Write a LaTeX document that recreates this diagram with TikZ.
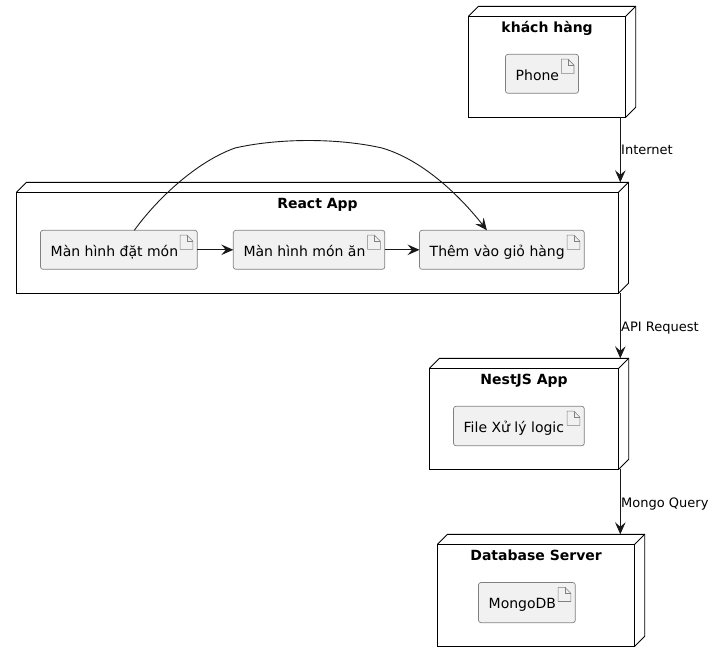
\documentclass[tikz,border=0pt]{standalone}
\usepackage{fontspec}
\setmainfont{DejaVu Sans}
\usetikzlibrary{arrows.meta}
\definecolor{edgecol}{HTML}{181818}
\definecolor{artfill}{HTML}{F1F1F1}
\definecolor{artline}{HTML}{808080}
\tikzset{
  x=1pt,y=-1pt,
  frontbox/.style={draw=black,line width=0.9pt,inner sep=0pt,outer sep=0pt},
  depth/.style={draw=black,line width=0.9pt,line join=miter},
  artbox/.style={draw=artline,fill=artfill,line width=0.7pt,rounded corners=2.5pt,inner sep=0pt,outer sep=0pt},
  icon/.style={draw=artline,line width=0.6pt,line join=miter},
  nodetitle/.style={font=\bfseries\fontsize{14}{16}\selectfont,anchor=base,inner sep=0pt,text=black},
  arttext/.style={font=\fontsize{14}{16}\selectfont,anchor=base west,inner sep=0pt,text=black},
  edgetext/.style={font=\fontsize{13}{15}\selectfont,anchor=base west,inner sep=0pt,text=black},
  link/.style={draw=edgecol,line width=0.9pt,-{Stealth[length=12pt,width=10.5pt,inset=4.5pt]}},
}
% name, x1, y1, x2, y2, title
\newcommand{\deploynode}[6]{%
  \node[frontbox,minimum width={#4-#2},minimum height={#5-#3},anchor=north west] (#1) at (#2,#3) {};
  \coordinate (#1-back) at (#4+10,#3-10);
  \draw[depth] (#1.north west) -- (#2+10,#3-10) -- (#1-back) -- (#4+10,#5-10) -- (#1.south east);
  \draw[depth] (#1.north east) -- (#1-back);
  \node[nodetitle] (#1-title) at ({(#2+#4)/2},#3+16.4) {#6};
}
% name, x1, y1, x2, y2, text
\newcommand{\artifactbox}[6]{%
  \node[artbox,minimum width={#4-#2},minimum height={#5-#3},anchor=north west] (#1) at (#2,#3) {};
  \node[arttext] (#1-text) at (#2+10,#3+26) {#6};
  \draw[icon] (#4-17.2,#3+4.8) -- (#4-10.5,#3+4.8) -- (#4-4.5,#3+10.8) -- (#4-4.5,#3+19) -- (#4-17.2,#3+19) -- cycle;
  \draw[icon] (#4-10.5,#3+4.8) -- (#4-10.5,#3+10.8) -- (#4-4.5,#3+10.8);
}
\begin{document}
\begin{tikzpicture}
\useasboundingbox (0,0) rectangle (715,662);
\coordinate (bus) at (620.3,0);

\deploynode{kh}{468.5}{16.3}{625.7}{117.3}{khách hàng}
\deploynode{react}{16.5}{192.3}{618.5}{293.3}{React App}
\deploynode{nest}{429.5}{368.3}{618.7}{469.3}{NestJS App}
\deploynode{db}{437.5}{544.3}{634.7}{646.3}{Database Server}

\artifactbox{phone}{505.5}{54.3}{578.5}{93.3}{Phone}
\artifactbox{dat}{40.5}{230.3}{197.3}{269.3}{Màn hình đặt món}
\artifactbox{mon}{233.3}{230.3}{384.8}{269.3}{Màn hình món ăn}
\artifactbox{them}{419.5}{230.3}{584.3}{269.3}{Thêm vào giỏ hàng}
\artifactbox{file}{453.5}{406.3}{584.3}{445.7}{File Xử lý logic}
\artifactbox{mongo}{478.5}{582.5}{575.3}{622.7}{MongoDB}

\draw[link] (kh.south -| bus) -- (react-back -| bus);
\draw[link] (react.south -| bus) -- (nest-back -| bus);
\draw[link] (nest.south -| bus) -- (db-back -| bus);
\draw[link] (dat.east) -- (mon.west);
\draw[link] (mon.east) -- (them.west);
\draw[link] ([xshift=15.4pt]dat.north) .. controls (157,199) and (196,162) .. (235,148)
  .. controls (279,138) and (338,138) .. (382,148)
  .. controls (423,160) and (460,196) .. ([xshift=-15pt]them.north);

\node[edgetext] (l1) at (621,154) {Internet};
\node[edgetext] (l2) at (621,331) {API Request};
\node[edgetext] (l3) at (621,507) {Mongo Query};
\end{tikzpicture}
\end{document}
